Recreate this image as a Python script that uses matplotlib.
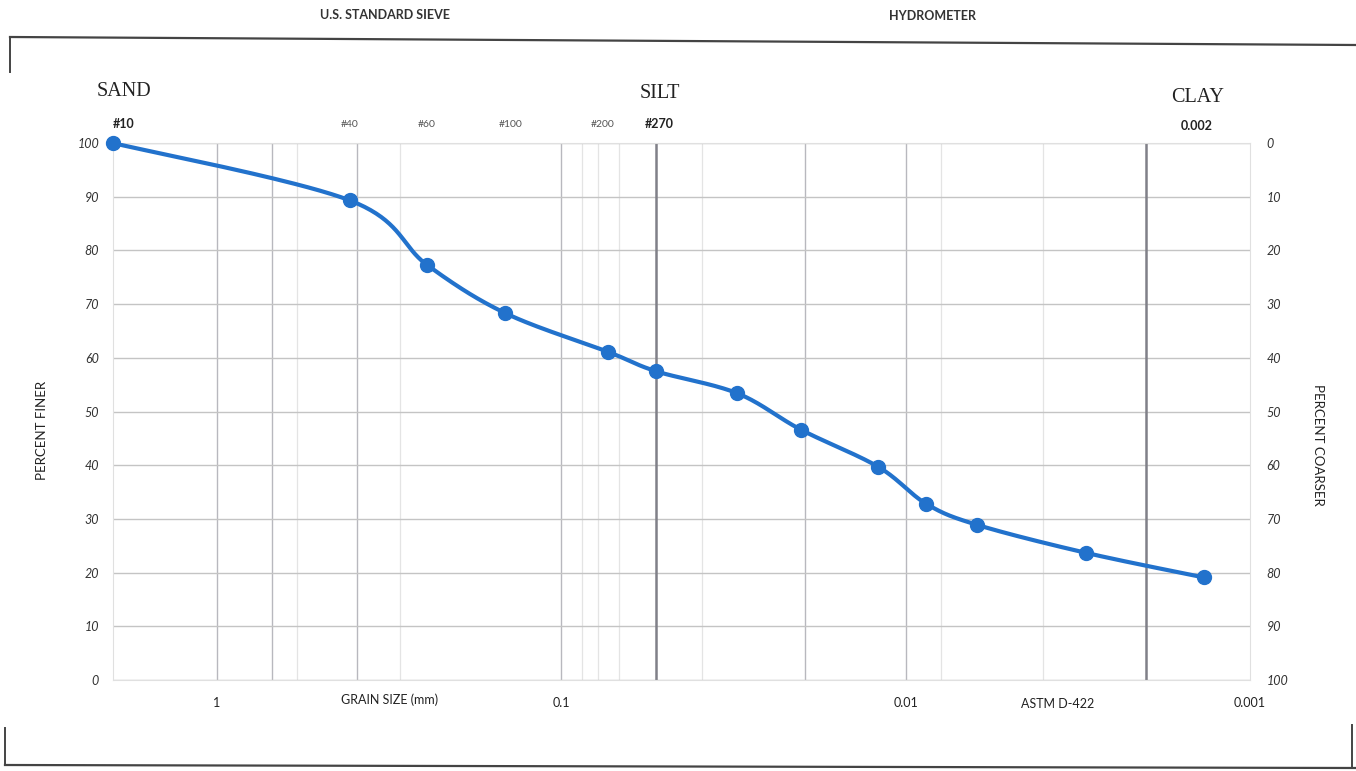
import numpy as np
import matplotlib
matplotlib.use('Agg')
from matplotlib import pyplot as plt
from matplotlib import transforms
from matplotlib.lines import Line2D

# grain size distribution
grain_mm = [2.0, 0.41, 0.245, 0.145, 0.073, 0.053, 0.0308, 0.0201,
            0.0120, 0.0087, 0.0062, 0.0030, 0.00136]
pct_finer = [100, 89.3, 77.3, 68.3, 61.1, 57.5, 53.4, 46.6,
             39.7, 32.8, 28.9, 23.7, 19.1]

sieve_names = ['#10', '#40', '#60', '#100', '#200', '#270']
sieve_mm = [2.0, 0.41, 0.245, 0.14, 0.076, 0.052]

x_ticks = [1, 0.1, 0.01, 0.001]
x_ticklabels = ['1', '0.1', '0.01', '0.001']
y_ticks = list(range(0, 101, 10))

grid_mid = [1, 0.69, 0.39, 0.1, 0.0196, 0.01]
grid_faint = [0.585, 0.294, 0.087, 0.078, 0.068, 0.039, 0.0079, 0.004]
grid_heavy = [0.053, 0.002]

SANS = 'Lato'
SERIF = 'Liberation Serif'
BLUE = '#2272CC'


def smooth_curve(xs, ys, n=40):
    # catmull-rom through the points in log-x space, like excel's smoothed line
    p = np.column_stack([np.log10(xs), ys])
    pts = np.vstack([p[0], p, p[-1]])
    t = np.linspace(0, 1, n)[:, None]
    segs = []
    for i in range(1, len(pts) - 2):
        p0, p1, p2, p3 = pts[i - 1], pts[i], pts[i + 1], pts[i + 2]
        seg = 0.5 * (2 * p1 + (-p0 + p2) * t
                     + (2 * p0 - 5 * p1 + 4 * p2 - p3) * t ** 2
                     + (-p0 + 3 * p1 - 3 * p2 + p3) * t ** 3)
        segs.append(seg)
    c = np.vstack(segs)
    return 10 ** c[:, 0], c[:, 1]


fig = plt.figure(figsize=(13.56, 7.71), dpi=100)
ax = fig.add_axes([0.0833, 0.118, 0.8385, 0.6965])

ax.set_xscale('log')
ax.set_xlim(2.0, 0.001)
ax.set_ylim(0, 100)

for g in grid_faint:
    ax.axvline(g, color='#E4E4E4', lw=0.9, zorder=0)
for g in grid_mid:
    ax.axvline(g, color='#B8B8BE', lw=1.0, zorder=0)
for g in grid_heavy:
    ax.axvline(g, color='#808088', lw=1.8, zorder=1)
for v in y_ticks:
    ax.axhline(v, color='#C4C4C4', lw=1.0, zorder=0)

sx, sy = smooth_curve(grain_mm, pct_finer)
ax.plot(sx, sy, color=BLUE, lw=3.0, zorder=3, solid_capstyle='round')
ax.plot(grain_mm, pct_finer, 'o', color=BLUE, ms=10, zorder=4, clip_on=False)

ax.set_xticks(x_ticks)
ax.set_xticklabels(x_ticklabels, fontsize=9, family=SANS, color='#222222')
ax.xaxis.set_minor_locator(matplotlib.ticker.NullLocator())
ax.set_yticks(y_ticks)
ax.set_yticklabels([str(v) for v in y_ticks], fontsize=9, style='italic',
                   family=SANS, color='#333333')
ax.tick_params(length=0, pad=10)
ax.tick_params(axis='x', pad=12)
for s in ax.spines.values():
    s.set_color('#E0E0E0')
    s.set_linewidth(0.8)

ax2 = ax.twinx()
ax2.set_ylim(100, 0)
ax2.set_yticks(y_ticks)
ax2.set_yticklabels([str(v) for v in y_ticks], fontsize=9, style='italic',
                    family=SANS, color='#333333')
ax2.tick_params(length=0, pad=12)
for s in ax2.spines.values():
    s.set_visible(False)

# sieve numbers above the plot, placed at their openings
trans = transforms.blended_transform_factory(ax.transData, ax.transAxes)
for name, d in zip(sieve_names, sieve_mm):
    bold = name in ('#10', '#270')
    ha = 'left' if name == '#10' else 'center'
    ax.text(d, 1.035, name, transform=trans, ha=ha, va='center',
            fontsize=9 if bold else 7.5, family=SANS,
            weight='bold' if bold else 'normal',
            color='#222222' if bold else '#555555')

fig.text(1197 / 1356, 1 - 126 / 771, '0.002', ha='center', va='center',
         fontsize=9, family=SANS, weight='bold', color='#222222')

fig.text(124 / 1356, 1 - 92 / 771, 'SAND', ha='center', va='center',
         fontsize=14.5, family=SERIF, color='#222222')
fig.text(660 / 1356, 1 - 94 / 771, 'SILT', ha='center', va='center',
         fontsize=14.5, family=SERIF, color='#222222')
fig.text(1198 / 1356, 1 - 97 / 771, 'CLAY', ha='center', va='center',
         fontsize=14.5, family=SERIF, color='#222222')

fig.text(385 / 1356, 1 - 15 / 771, 'U.S. STANDARD SIEVE', ha='center',
         va='center', fontsize=9, family=SANS, weight='bold', color='#333333')
fig.text(932 / 1356, 1 - 16 / 771, 'HYDROMETER', ha='center', va='center',
         fontsize=9, family=SANS, weight='bold', color='#333333')

fig.text(390 / 1356, 1 - 700 / 771, 'GRAIN SIZE (mm)', ha='center',
         va='center', fontsize=9, family=SANS, color='#222222')
fig.text(1058 / 1356, 1 - 704 / 771, 'ASTM D-422', ha='center',
         va='center', fontsize=9, family=SANS, color='#222222')

fig.text(42 / 1356, 1 - 430 / 771, 'PERCENT FINER', ha='center',
         va='center', rotation=90, fontsize=9.5, family=SANS, color='#222222')
fig.text(1318 / 1356, 1 - 445 / 771, 'PERCENT COARSER', ha='center',
         va='center', rotation=-90, fontsize=9.5, family=SANS, color='#222222')

# frame lines of the scanned sheet
W, H = 1356.0, 771.0
frame = [
    ([10, 1356], [37, 45], 1.6),
    ([10, 10], [37, 72], 1.4),
    ([5, 1356], [765, 768], 1.6),
    ([5, 5], [728, 765], 1.4),
    ([1352, 1352], [725, 768], 1.4),
]
for xs, ys, lw in frame:
    fig.add_artist(Line2D([x / W for x in xs], [1 - y / H for y in ys],
                          transform=fig.transFigure, color='#444444', lw=lw))

fig.savefig('out.png', dpi=100)
